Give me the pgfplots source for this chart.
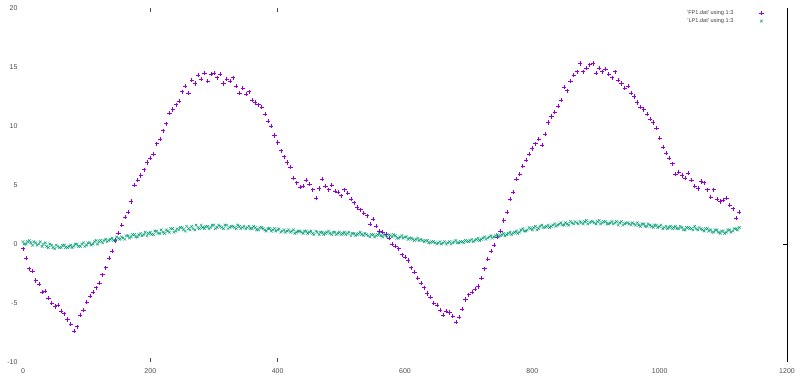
\documentclass[border=0pt]{standalone}
\usepackage{fontspec}
\setmainfont{Liberation Sans}
\usepackage{pgfplots}
\pgfplotsset{compat=1.18}
\definecolor{gpviolet}{HTML}{9400D3}
\definecolor{gpgreen}{HTML}{009E73}
\begin{document}
\begin{tikzpicture}
\useasboundingbox (-23pt,-19pt) rectangle (777pt,362pt);
\begin{axis}[
  at={(0,0)}, anchor=south west,
  scale only axis, width=764pt, height=354pt,
  xmin=0, xmax=1200, ymin=-10, ymax=20,
  axis line style={draw=none},
  xtick={0,200,...,1200}, ytick={-10,-5,...,20},
  major tick length=0pt,
  /pgf/number format/assume math mode=true,
  /pgf/number format/1000 sep={},
  tick label style={font=\fontsize{7}{8}\selectfont, text=black!70},
  xticklabel style={yshift=-3pt},
  yticklabel style={xshift=-2pt},
  clip=false,
  legend plot pos=right,
  legend cell align=right,
  legend style={at={(rel axis cs:1,1)}, anchor=north east, xshift=-22pt, yshift=1pt,
    draw=none, fill=none, font=\fontsize{5.6}{6.5}\selectfont, text=black!75,
    row sep=-1.5pt, inner sep=1pt},
]
\addplot[only marks, mark=+, color=gpviolet, mark size=2.1pt, line width=0.6pt,
  mark options={solid, draw=gpviolet},
  legend image code/.code={\path[draw=none] (0pt,0pt) -- (28pt,0pt);
     \draw[draw=gpviolet, line width=0.6pt] (26pt,-2.1pt) -- (26pt,2.1pt) (23.9pt,0pt) -- (28.1pt,0pt);},
  ] coordinates {
(0,-0.4)(5,-1.2)(10,-2.1)(15,-2.3)(20,-3.1)(25,-3.4)(30,-4.1)(35,-4.0)(40,-4.6)(45,-5.0)
(50,-5.3)(55,-5.2)(60,-5.7)(65,-5.9)(70,-6.4)(75,-6.8)(80,-7.4)(85,-7.0)(90,-6.0)(95,-5.6)
(100,-4.9)(105,-4.4)(110,-4.1)(115,-3.7)(120,-3.3)(125,-2.6)(130,-2.0)(135,-1.2)(140,-0.6)(145,0.3)
(150,0.9)(155,1.6)(160,2.3)(165,2.7)(170,3.6)(175,5.0)(180,5.4)(185,5.8)(190,6.3)(195,6.9)
(200,7.3)(205,7.6)(210,8.5)(215,8.9)(220,9.6)(225,10.2)(230,11.1)(235,11.4)(240,11.8)(245,12.1)
(250,12.9)(255,13.4)(260,12.8)(265,13.9)(270,13.6)(275,14.3)(280,14.0)(285,14.5)(290,13.8)(295,14.4)
(300,14.5)(305,14.1)(310,14.4)(315,13.6)(320,14.0)(325,13.8)(330,14.1)(335,13.4)(340,12.8)(345,13.2)
(350,12.7)(355,12.9)(360,12.2)(365,12.0)(370,11.8)(375,11.6)(380,11.0)(385,10.4)(390,10.0)(395,9.2)
(400,8.6)(405,7.9)(410,7.4)(415,6.9)(420,6.5)(425,5.6)(430,5.2)(435,4.8)(440,4.9)(445,5.4)
(450,5.1)(455,4.6)(460,3.9)(465,4.7)(470,5.5)(475,4.9)(480,4.6)(485,5.0)(490,4.5)(495,4.4)
(500,4.1)(505,4.6)(510,4.3)(515,3.8)(520,3.5)(525,3.1)(530,2.9)(535,2.6)(540,2.4)(545,1.7)
(550,2.1)(555,1.5)(560,1.1)(565,1.0)(570,0.8)(575,0.5)(580,0.0)(585,-0.2)(590,-0.4)(595,-0.9)
(600,-1.1)(605,-1.4)(610,-2.0)(615,-2.4)(620,-2.9)(625,-3.3)(630,-3.7)(635,-4.2)(640,-4.5)(645,-5.0)
(650,-5.2)(655,-5.6)(660,-6.0)(665,-5.7)(670,-5.8)(675,-6.1)(680,-6.6)(685,-6.2)(690,-5.5)(695,-4.7)
(700,-4.3)(705,-4.1)(710,-3.8)(715,-3.6)(720,-2.9)(725,-2.1)(730,-1.3)(735,-0.6)(740,-0.1)(745,0.6)
(750,1.1)(755,2.0)(760,2.7)(765,3.8)(770,4.4)(775,5.5)(780,5.9)(785,6.6)(790,7.1)(795,7.6)
(800,8.1)(805,8.5)(810,8.9)(815,8.4)(820,9.3)(825,10.3)(830,10.8)(835,11.2)(840,11.7)(845,12.2)
(850,13.3)(855,13.0)(860,13.8)(865,14.3)(870,14.6)(875,15.3)(880,14.6)(885,14.9)(890,15.2)(895,15.3)
(900,14.5)(905,14.9)(910,14.6)(915,14.8)(920,14.4)(925,14.1)(930,14.6)(935,13.9)(940,13.6)(945,13.2)
(950,13.4)(955,12.8)(960,12.5)(965,12.0)(970,11.6)(975,11.4)(980,11.0)(985,10.6)(990,10.3)(995,9.8)
(1000,9.0)(1005,8.2)(1010,7.7)(1015,7.3)(1020,6.8)(1025,5.9)(1030,6.1)(1035,5.8)(1040,5.6)(1045,6.0)
(1050,5.4)(1055,4.9)(1060,4.7)(1065,5.3)(1070,5.2)(1075,4.6)(1080,4.0)(1085,4.6)(1090,3.8)(1095,3.6)
(1100,3.7)(1105,3.9)(1110,3.3)(1115,3.0)(1120,2.2)(1125,2.7)
};
\addlegendentry{'FP1.dat' using 1:3}
\addplot[only marks, mark=x, color=gpgreen, mark size=1.9pt, line width=0.45pt,
  mark options={solid, draw=gpgreen},
  legend image code/.code={\path[draw=none] (0pt,0pt) -- (28pt,0pt);
     \draw[draw=gpgreen, line width=0.45pt] (24.6pt,-1.4pt) -- (27.4pt,1.4pt) (24.6pt,1.4pt) -- (27.4pt,-1.4pt);},
  ] coordinates {
(0,0.2)(5,0.0)(10,0.3)(15,-0.1)(20,0.1)(25,0.0)(30,-0.2)(35,0.1)(40,-0.3)(45,-0.1)
(50,-0.4)(55,-0.2)(60,-0.3)(65,-0.1)(70,-0.3)(75,-0.1)(80,-0.2)(85,0.0)(90,-0.2)(95,0.1)
(100,-0.1)(105,0.1)(110,0.0)(115,0.3)(120,0.2)(125,0.1)(130,0.4)(135,0.3)(140,0.5)(145,0.3)
(150,0.5)(155,0.6)(160,0.4)(165,0.7)(170,0.6)(175,0.8)(180,0.6)(185,0.9)(190,0.8)(195,0.7)
(200,1.0)(205,0.8)(210,1.1)(215,0.9)(220,1.0)(225,1.2)(230,1.0)(235,1.3)(240,1.1)(245,1.2)
(250,1.4)(255,1.1)(260,1.3)(265,1.5)(270,1.2)(275,1.4)(280,1.6)(285,1.3)(290,1.5)(295,1.4)
(300,1.6)(305,1.4)(310,1.5)(315,1.3)(320,1.6)(325,1.4)(330,1.5)(335,1.3)(340,1.5)(345,1.4)
(350,1.3)(355,1.5)(360,1.3)(365,1.4)(370,1.2)(375,1.4)(380,1.2)(385,1.3)(390,1.1)(395,1.3)
(400,1.2)(405,1.0)(410,1.2)(415,1.1)(420,1.0)(425,1.2)(430,1.0)(435,1.1)(440,0.9)(445,1.1)
(450,1.0)(455,0.9)(460,1.1)(465,0.8)(470,1.0)(475,0.9)(480,1.1)(485,0.8)(490,1.0)(495,0.9)
(500,0.8)(505,1.0)(510,0.9)(515,0.7)(520,0.9)(525,0.8)(530,1.0)(535,0.7)(540,0.8)(545,0.6)
(550,0.8)(555,0.7)(560,0.9)(565,0.6)(570,0.7)(575,0.8)(580,0.6)(585,0.7)(590,0.5)(595,0.7)
(600,0.6)(605,0.4)(610,0.5)(615,0.3)(620,0.5)(625,0.4)(630,0.2)(635,0.3)(640,0.1)(645,0.2)
(650,0.0)(655,0.2)(660,0.1)(665,0.0)(670,0.2)(675,0.1)(680,0.3)(685,0.1)(690,0.2)(695,0.3)
(700,0.2)(705,0.4)(710,0.3)(715,0.5)(720,0.4)(725,0.6)(730,0.5)(735,0.7)(740,0.6)(745,0.8)
(750,0.7)(755,0.9)(760,0.8)(765,1.0)(770,0.9)(775,1.1)(780,1.0)(785,1.3)(790,1.1)(795,1.4)
(800,1.2)(805,1.5)(810,1.3)(815,1.6)(820,1.4)(825,1.6)(830,1.5)(835,1.7)(840,1.6)(845,1.8)
(850,1.6)(855,1.7)(860,1.9)(865,1.7)(870,1.8)(875,1.9)(880,1.7)(885,2.0)(890,1.8)(895,1.9)
(900,1.7)(905,2.0)(910,1.8)(915,1.9)(920,1.7)(925,1.9)(930,1.8)(935,1.6)(940,1.9)(945,1.7)
(950,1.8)(955,1.6)(960,1.7)(965,1.8)(970,1.5)(975,1.7)(980,1.5)(985,1.6)(990,1.4)(995,1.6)
(1000,1.5)(1005,1.3)(1010,1.5)(1015,1.4)(1020,1.3)(1025,1.5)(1030,1.3)(1035,1.4)(1040,1.2)(1045,1.4)
(1050,1.3)(1055,1.5)(1060,1.2)(1065,1.3)(1070,1.1)(1075,1.3)(1080,1.2)(1085,1.0)(1090,1.2)(1095,0.9)
(1100,1.1)(1105,1.0)(1110,1.2)(1115,1.1)(1120,1.3)(1125,1.4)
(2,0.0)(7,0.2)(12,0.1)(17,0.2)(22,-0.1)(27,0.2)(32,0.0)(37,-0.2)(42,0.0)(47,-0.3)
(52,-0.1)(57,-0.3)(62,-0.1)(67,-0.3)(72,-0.2)(77,-0.3)(82,0.0)(87,-0.2)(92,0.0)(97,-0.2)
(102,0.1)(107,-0.1)(112,0.2)(117,0.0)(122,0.3)(127,0.3)(132,0.2)(137,0.4)(142,0.3)(147,0.6)
(152,0.4)(157,0.5)(162,0.7)(167,0.5)(172,0.8)(177,0.6)(182,0.8)(187,0.7)(192,1.0)(197,0.9)
(202,0.8)(207,1.1)(212,0.9)(217,1.2)(222,0.9)(227,1.1)(232,1.3)(237,1.0)(242,1.3)(247,1.4)
(252,1.2)(257,1.5)(262,1.2)(267,1.3)(272,1.6)(277,1.3)(282,1.4)(287,1.5)(292,1.3)(297,1.6)
(302,1.3)(307,1.6)(312,1.4)(317,1.6)(322,1.3)(327,1.5)(332,1.4)(337,1.6)(342,1.3)(347,1.5)
(352,1.4)(357,1.3)(362,1.5)(367,1.2)(372,1.4)(377,1.3)(382,1.1)(387,1.3)(392,1.2)(397,1.1)
(402,1.3)(407,1.1)(412,1.0)(417,1.2)(422,1.1)(427,0.9)(432,1.1)(437,1.0)(442,1.1)(447,0.9)
(452,1.1)(457,0.8)(462,1.0)(467,1.0)(472,0.8)(477,1.0)(482,0.9)(487,1.0)(492,0.8)(497,1.0)
(502,0.9)(507,0.8)(512,1.0)(517,0.9)(522,0.7)(527,0.9)(532,0.8)(537,0.9)(542,0.7)(547,0.8)
(552,0.6)(557,0.8)(562,0.7)(567,0.8)(572,0.6)(577,0.7)(582,0.8)(587,0.5)(592,0.6)(597,0.5)
(602,0.6)(607,0.5)(612,0.4)(617,0.4)(622,0.3)(627,0.3)(632,0.3)(637,0.1)(642,0.2)(647,0.1)
(652,0.1)(657,0.0)(662,0.2)(667,0.1)(672,0.0)(677,0.2)(682,0.1)(687,0.2)(692,0.1)(697,0.2)
(702,0.3)(707,0.2)(712,0.4)(717,0.3)(722,0.5)(727,0.4)(732,0.6)(737,0.5)(742,0.7)(747,0.6)
(752,0.8)(757,0.7)(762,0.9)(767,0.8)(772,1.0)(777,0.9)(782,1.2)(787,1.1)(792,1.2)(797,1.3)
(802,1.4)(807,1.2)(812,1.5)(817,1.4)(822,1.5)(827,1.4)(832,1.6)(837,1.5)(842,1.7)(847,1.6)
(852,1.8)(857,1.6)(862,1.8)(867,1.9)(872,1.7)(877,1.8)(882,1.9)(887,1.7)(892,1.9)(897,1.8)
(902,1.9)(907,1.7)(912,1.9)(917,1.7)(922,1.8)(927,1.7)(932,1.9)(937,1.8)(942,1.6)(947,1.8)
(952,1.7)(957,1.8)(962,1.6)(967,1.6)(972,1.7)(977,1.5)(982,1.7)(987,1.5)(992,1.6)(997,1.4)
(1002,1.6)(1007,1.4)(1012,1.3)(1017,1.5)(1022,1.4)(1027,1.3)(1032,1.5)(1037,1.2)(1042,1.4)(1047,1.3)
(1052,1.2)(1057,1.3)(1062,1.4)(1067,1.2)(1072,1.3)(1077,1.1)(1082,1.0)(1087,1.2)(1092,1.0)(1097,1.1)
(1102,0.9)(1107,1.2)(1112,1.0)(1117,1.3)(1122,1.2)
};
\addlegendentry{'LP1.dat' using 1:3}
% visible parts of the frame
\draw[black, line width=0.8pt] (rel axis cs:1,0) -- (rel axis cs:1,1);
\draw[black, line width=0.5pt] (axis cs:1200,0) -- ++(-4pt,0pt);
\draw[black!70, line width=0.5pt] (axis cs:200,-10) -- ++(0pt,4pt);
\draw[black!70, line width=0.5pt] (axis cs:400,-10) -- ++(0pt,4pt);
\draw[black!70, line width=0.5pt] (axis cs:200,20) -- ++(0pt,-4pt);
\draw[black!70, line width=0.5pt] (axis cs:400,20) -- ++(0pt,-4pt);
\end{axis}
\end{tikzpicture}
\end{document}
